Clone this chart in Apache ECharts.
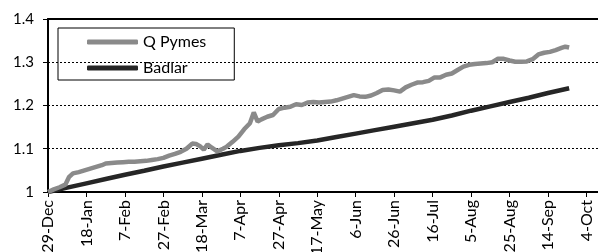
<!DOCTYPE html>
<html lang="en">
<head>
    <meta charset="UTF-8">
    <title>Q Pymes vs Badlar</title>
    <script src="https://cdn.jsdelivr.net/npm/echarts@6/dist/echarts.min.js"></script>
    <style>
        html, body { margin: 0; padding: 0; background: #fff; }
        #main { width: 598px; height: 252px; }
    </style>
</head>
<body>
    <div id="main"></div>
    <script>
        // x = days since 29-Dec
        var tickLabels = ['29-Dec', '18-Jan', '7-Feb', '27-Feb', '18-Mar', '7-Apr', '27-Apr', '17-May',
            '6-Jun', '26-Jun', '16-Jul', '5-Aug', '25-Aug', '14-Sep', '4-Oct'];

        var qpymesDays = [0, 3, 6, 9, 11, 13, 16, 19, 22, 25, 28, 30, 33, 36, 39, 42, 45, 48, 51, 54, 57, 60,
            63, 66, 69, 72, 75, 77, 79, 81, 83, 85, 88, 91, 93, 96, 99, 102, 105, 107, 109, 111, 114, 117,
            120, 123, 126, 129, 132, 135, 138, 141, 144, 147, 150, 153, 156, 159, 162, 165, 168, 171, 174,
            177, 180, 183, 186, 189, 192, 195, 198, 201, 204, 207, 210, 213, 216, 219, 222, 225, 228, 231,
            234, 237, 240, 243, 246, 249, 252, 255, 258, 261, 264, 267, 269, 271];
        var qpymesValues = [1.000, 1.006, 1.011, 1.017, 1.035, 1.043, 1.046, 1.050, 1.054, 1.058, 1.062, 1.066,
            1.067, 1.068, 1.069, 1.070, 1.070, 1.071, 1.072, 1.074, 1.076, 1.079, 1.084, 1.088, 1.093, 1.100,
            1.112, 1.111, 1.106, 1.098, 1.110, 1.103, 1.094, 1.100, 1.105, 1.116, 1.128, 1.145, 1.159, 1.184,
            1.163, 1.168, 1.174, 1.178, 1.192, 1.195, 1.197, 1.203, 1.201, 1.207, 1.208, 1.207, 1.208, 1.209,
            1.212, 1.216, 1.220, 1.224, 1.221, 1.220, 1.223, 1.229, 1.236, 1.237, 1.235, 1.232, 1.242, 1.248,
            1.253, 1.254, 1.257, 1.265, 1.265, 1.271, 1.274, 1.282, 1.290, 1.294, 1.296, 1.297, 1.298, 1.300,
            1.308, 1.308, 1.304, 1.301, 1.301, 1.302, 1.307, 1.318, 1.322, 1.324, 1.328, 1.333, 1.336, 1.334];

        var badlarDays = [0, 10, 20, 30, 40, 50, 60, 70, 80, 90, 100, 110, 120, 130, 140, 150, 160, 170,
            180, 190, 200, 210, 220, 230, 240, 250, 260, 271];
        var badlarValues = [1.000, 1.010, 1.020, 1.030, 1.040, 1.049, 1.059, 1.068, 1.077, 1.086, 1.095, 1.102,
            1.108, 1.113, 1.119, 1.127, 1.135, 1.143, 1.151, 1.159, 1.167, 1.177, 1.188, 1.198, 1.208, 1.218,
            1.229, 1.240];

        function pairs(xs, ys) {
            return xs.map(function (x, i) { return [x, ys[i]]; });
        }

        var myChart = echarts.init(document.getElementById('main'), null, { renderer: 'canvas' });
        var font = 'Lato, "Open Sans", sans-serif';

        var option = {
            animation: false,
            backgroundColor: '#fff',
            grid: { left: 48, right: 0, top: 19, bottom: 60, outerBoundsMode: 'none', containLabel: false },
            legend: {
                orient: 'vertical',
                left: 58,
                top: 28,
                padding: [6, 28, 4, 29],
                itemGap: 10,
                itemWidth: 51,
                itemHeight: 5,
                icon: 'roundRect',
                borderColor: '#000',
                borderWidth: 1,
                textStyle: { fontFamily: font, fontSize: 16, lineHeight: 16, color: '#000' },
                data: ['Q Pymes', 'Badlar']
            },
            xAxis: [{
                type: 'value',
                min: 0,
                max: 286,
                interval: 20,
                axisLine: { lineStyle: { color: '#000', width: 2 } },
                axisTick: { show: true, length: 5, lineStyle: { color: '#000', width: 1 } },
                splitLine: { show: false },
                axisLabel: {
                    rotate: 90,
                    margin: 8,
                    fontFamily: font,
                    fontSize: 16,
                    color: '#000',
                    showMaxLabel: false,
                    formatter: function (v) {
                        return v % 20 === 0 ? (tickLabels[v / 20] || '') : '';
                    }
                }
            }, {
                type: 'value',
                position: 'top',
                min: 0,
                max: 286,
                axisLine: { show: true, lineStyle: { color: '#000', width: 2 } },
                axisTick: { show: false },
                axisLabel: { show: false },
                splitLine: { show: false }
            }],
            yAxis: {
                type: 'value',
                min: 1,
                max: 1.4,
                interval: 0.1,
                axisLine: { show: true, lineStyle: { color: '#000', width: 2 } },
                axisTick: { show: true, length: 5, lineStyle: { color: '#000', width: 1 } },
                axisLabel: { margin: 14, fontFamily: font, fontSize: 15, color: '#000' },
                splitLine: { show: true, lineStyle: { color: '#000', width: 1, type: [2, 2] } }
            },
            series: [{
                name: 'Q Pymes',
                type: 'line',
                data: pairs(qpymesDays, qpymesValues),
                symbol: 'none',
                color: '#8a8a8a',
                lineStyle: { color: '#8a8a8a', width: 4.5 },
                z: 3
            }, {
                name: 'Badlar',
                type: 'line',
                data: pairs(badlarDays, badlarValues),
                symbol: 'none',
                color: '#262626',
                lineStyle: { color: '#262626', width: 4.5 },
                z: 2
            }]
        };
        myChart.setOption(option);
    </script>
</body>
</html>
